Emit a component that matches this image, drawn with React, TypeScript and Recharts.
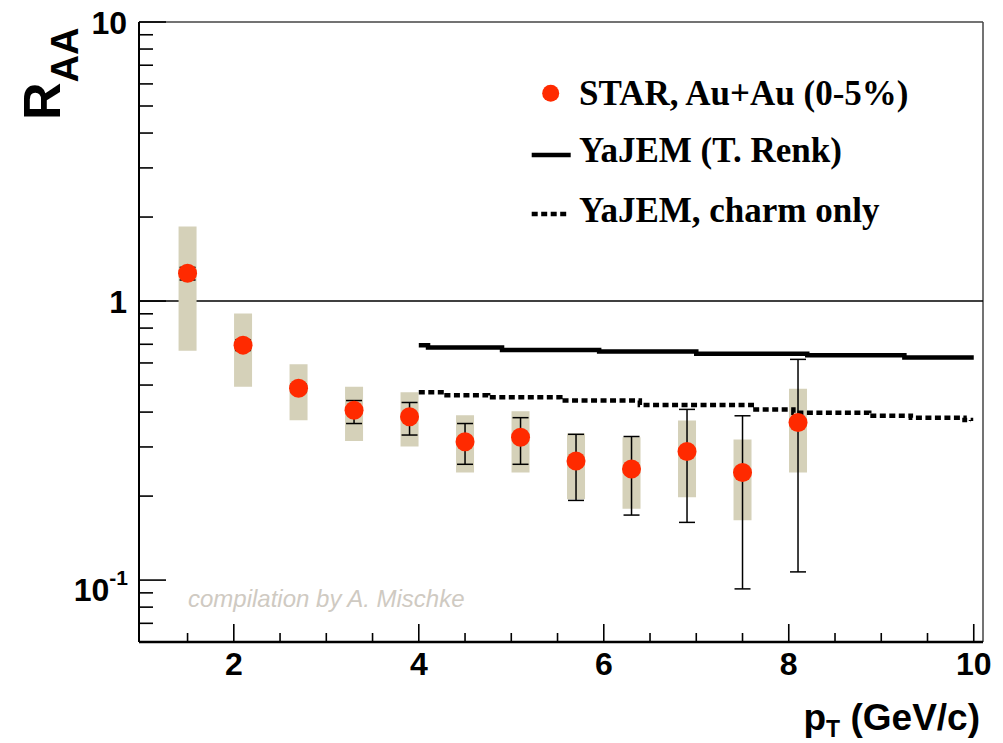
import React from 'react';
import {
  ComposedChart,
  Scatter,
  Line,
  XAxis,
  YAxis,
  ErrorBar,
  ReferenceLine,
  Legend,
  Customized,
} from 'recharts';

// ---------- data ----------
const ptX = [1.5, 2.1, 2.7, 3.3, 3.9, 4.5, 5.1, 5.7, 6.3, 6.9, 7.5, 8.1];
const raa = [1.257, 0.695, 0.487, 0.406, 0.385, 0.313, 0.325, 0.267, 0.25, 0.289, 0.243, 0.367];
const statLow = [1.19, 0.665, 0.47, 0.364, 0.331, 0.26, 0.26, 0.193, 0.171, 0.161, 0.093, 0.107];
const statHigh = [1.32, 0.725, 0.505, 0.44, 0.433, 0.364, 0.382, 0.333, 0.327, 0.409, 0.388, 0.618];
const sysLow = [0.664, 0.493, 0.374, 0.315, 0.301, 0.243, 0.243, 0.195, 0.18, 0.198, 0.164, 0.243];
const sysHigh = [1.848, 0.903, 0.594, 0.493, 0.471, 0.39, 0.403, 0.335, 0.325, 0.373, 0.319, 0.485];

const yajemX = [4.0, 4.1, 4.9, 5.95, 7.0, 8.2, 9.25, 10.0];
const yajemRaa = [0.695, 0.681, 0.667, 0.659, 0.648, 0.64, 0.628, 0.628];

const charmX = [4.0, 4.3, 4.75, 5.53, 6.39, 7.6, 8.05, 8.87, 9.32, 9.9, 9.97];
const charmRaa = [0.471, 0.46, 0.452, 0.44, 0.424, 0.409, 0.398, 0.388, 0.382, 0.375, 0.372];

const xTicks = [1.5, 2, 2.5, 3, 3.5, 4, 4.5, 5, 5.5, 6, 6.5, 7, 7.5, 8, 8.5, 9, 9.5, 10];
const xMajor = [2, 4, 6, 8, 10];
const yTicks = [
  0.06, 0.07, 0.08, 0.09, 0.1, 0.2, 0.3, 0.4, 0.5, 0.6, 0.7, 0.8, 0.9,
  1, 2, 3, 4, 5, 6, 7, 8, 9, 10,
];
const yMajor = [0.1, 1, 10];

const legendLabels = ['STAR, Au+Au (0-5%)', 'YaJEM (T. Renk)', 'YaJEM, charm only'];

// ---------- derived tables ----------
const starData = ptX.map((x, i) => ({
  x,
  y: raa[i],
  stat: [raa[i] - statLow[i], statHigh[i] - raa[i]],
  sys: [raa[i] - sysLow[i], sysHigh[i] - raa[i]],
}));
const yajemData = yajemX.map((x, i) => ({ x, y: yajemRaa[i] }));
const charmData = charmX.map((x, i) => ({ x, y: charmRaa[i] }));

// ---------- styles ----------
const SANS = '"Liberation Sans", Arial, Helvetica, sans-serif';
const SERIF = '"Liberation Serif", "Times New Roman", serif';
const RED = '#ff2a00';
const BOX = '#d5d1b9';
const Y_MARGIN = 12;
const X_MARGIN = 10;

const YTick = (props: any) => {
  const { x, y, payload } = props;
  const v = payload.value;
  const ax = x + Y_MARGIN;
  const major = yMajor.includes(v);
  const len = major ? 27 : 14;
  let label: React.ReactNode = null;
  if (v === 10 || v === 1) {
    label = (
      <text x={x} y={y} dy={11.5} textAnchor="end" fontFamily={SANS} fontWeight="bold" fontSize={32} fill="#000">
        {String(v)}
      </text>
    );
  } else if (v === 0.1) {
    label = (
      <text x={x + 1} y={y} dy={21} textAnchor="end" fontFamily={SANS} fontWeight="bold" fontSize={32} fill="#000">
        <tspan>10</tspan>
        <tspan fontSize={21} dy={-16}>-1</tspan>
      </text>
    );
  }
  return (
    <g>
      <line x1={ax} x2={ax + len} y1={y} y2={y} stroke="#000" strokeWidth={1.6} />
      {label}
    </g>
  );
};

const XTick = (props: any) => {
  const { x, y, payload } = props;
  const v = payload.value;
  const ay = y - X_MARGIN;
  const major = xMajor.includes(v);
  return (
    <g>
      <line x1={x} x2={x} y1={ay} y2={ay - (major ? 18 : 9)} stroke="#000" strokeWidth={1.6} />
      {major && (
        <text x={x} y={y} dy={23} textAnchor="middle" fontFamily={SANS} fontWeight="bold" fontSize={32} fill="#000">
          {String(v)}
        </text>
      )}
    </g>
  );
};

const renderYLabel = () => (
  <text
    x={52}
    y={112}
    transform="rotate(-90, 52, 112)"
    fontFamily={SANS}
    fontWeight="bold"
    fill="#000"
  >
    <tspan fontSize={52}>R</tspan>
    <tspan fontSize={38} dy={18}>AA</tspan>
  </text>
);

const renderXLabel = () => (
  <text
    x={972}
    y={722}
    textAnchor="end"
    fontFamily={SANS}
    fontWeight="bold"
    fontSize={37}
    fill="#000"
    style={{ whiteSpace: 'pre' }}
  >
    <tspan>p</tspan>
    <tspan fontSize={23} dy={7}>T</tspan>
    <tspan dy={-7}>{' (GeV/c)'}</tspan>
  </text>
);

const renderLegend = () => (
  <svg width={460} height={200} style={{ display: 'block', overflow: 'visible' }}>
    <circle cx={42.7} cy={35.3} r={8.5} fill={RED} />
    <line x1={23.7} x2={62.7} y1={97} y2={97} stroke="#000" strokeWidth={4.5} />
    <line x1={23.7} x2={59} y1={156} y2={156} stroke="#000" strokeWidth={4.5} strokeDasharray="6 3.5" />
    {legendLabels.map((t, i) => (
      <text
        key={t}
        x={71}
        y={[47, 104, 164][i]}
        fontFamily={SERIF}
        fontWeight="bold"
        fontSize={35}
        fill="#000"
      >
        {t}
      </text>
    ))}
  </svg>
);

const Credit = () => (
  <text x={180} y={599} fontFamily={SANS} fontStyle="italic" fontSize={24} fill="#cfcac2">
    compilation by A. Mischke
  </text>
);

const Marker = (props: any) => {
  const { cx, cy } = props;
  if (cx == null || cy == null) return null;
  return <circle cx={cx} cy={cy} r={9.5} fill={RED} />;
};

const NoMarker = () => <g />;

export default function App() {
  return (
    <ComposedChart
      width={995}
      height={735}
      margin={{ top: 14, right: 20, bottom: 0, left: 0 }}
      style={{ background: '#fff' }}
    >
      <XAxis
        dataKey="x"
        type="number"
        domain={[0.975, 10.1]}
        allowDataOverflow
        ticks={xTicks}
        interval={0}
        tick={<XTick />}
        tickLine={false}
        tickSize={0}
        tickMargin={X_MARGIN}
        height={101}
        axisLine={{ stroke: '#000', strokeWidth: 2.5 }}
        label={{ content: renderXLabel }}
      />
      <YAxis
        type="number"
        scale="log"
        domain={[0.06, 10]}
        allowDataOverflow
        ticks={yTicks}
        interval={0}
        tick={<YTick />}
        tickLine={false}
        tickSize={0}
        tickMargin={Y_MARGIN}
        width={131}
        axisLine={{ stroke: '#000', strokeWidth: 2 }}
        label={{ content: renderYLabel }}
      />
      <ReferenceLine y={10} stroke="#444" strokeWidth={1.5} />
      <ReferenceLine x={10.1} stroke="#444" strokeWidth={1.5} />
      <ReferenceLine y={1} stroke="#000" strokeWidth={1.6} />
      <Scatter
        name="errors"
        data={starData}
        dataKey="y"
        shape={<NoMarker />}
        legendType="none"
        isAnimationActive={false}
      >
        <ErrorBar dataKey="sys" direction="y" width={0} stroke={BOX} strokeWidth={18} />
        <ErrorBar dataKey="stat" direction="y" width={8} stroke="#000" strokeWidth={1.5} />
      </Scatter>
      <Line
        data={yajemData}
        dataKey="y"
        type="stepAfter"
        stroke="#000"
        strokeWidth={4.5}
        dot={false}
        activeDot={false}
        isAnimationActive={false}
      />
      <Line
        data={charmData}
        dataKey="y"
        type="stepAfter"
        stroke="#000"
        strokeWidth={4.5}
        strokeDasharray="6 3.5"
        dot={false}
        activeDot={false}
        isAnimationActive={false}
      />
      <Scatter
        name="STAR"
        data={starData}
        dataKey="y"
        shape={<Marker />}
        isAnimationActive={false}
      />
      <Customized component={<Credit />} />
      <Legend
        layout="horizontal"
        verticalAlign="middle"
        align="center"
        content={renderLegend}
        wrapperStyle={{ position: 'absolute', left: 500, top: 50, width: 460, height: 200 }}
      />
    </ComposedChart>
  );
}
